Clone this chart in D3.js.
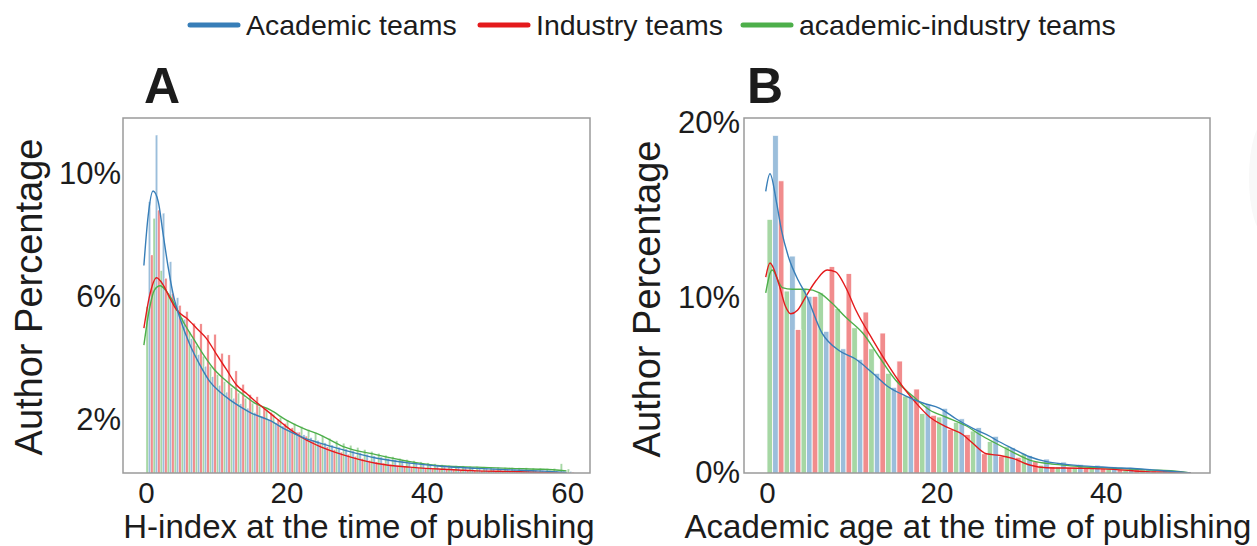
<!DOCTYPE html>
<html>
<head>
<meta charset="utf-8">
<script src="https://cdn.jsdelivr.net/npm/d3@7"></script>
<style>
  body { margin: 0; background: #fff; }
  text { font-family: "Liberation Sans", Arial, sans-serif; fill: #1c1c1c; }
</style>
</head>
<body>
<svg id="chart" width="1257" height="546"></svg>
<script>
// ---- data (percent of authors) ----
const seriesNames = ['Academic teams', 'Industry teams', 'academic-industry teams'];
const seriesColors = ['#377eb8', '#e41a1c', '#4daf4a'];

// panel A: H-index bins 0..60 (width 1)
const hIndexBins = d3.range(0, 61);
const hAcademic = [9.07, 11.24, 8.70, 7.12, 5.95, 5.25, 4.62, 4.10, 3.72, 3.38, 3.10, 2.88, 2.68, 2.50, 2.36, 2.22, 2.10, 1.98, 1.88, 1.78, 1.68, 1.58, 1.49, 1.40, 1.31, 1.23, 1.16, 1.09, 1.03, 0.97, 0.91, 0.86, 0.81, 0.77, 0.73, 0.69, 0.65, 0.61, 0.58, 0.56, 0.53, 0.51, 0.49, 0.47, 0.46, 0.44, 0.43, 0.42, 0.41, 0.40, 0.39, 0.38, 0.37, 0.36, 0.35, 0.34, 0.33, 0.33, 0.32, 0.31, 0.30];
const hIndustry = [7.34, 8.80, 6.58, 6.09, 5.70, 5.50, 5.12, 5.10, 4.74, 4.76, 4.14, 4.09, 3.57, 3.13, 2.80, 2.73, 2.35, 2.22, 2.00, 1.86, 1.72, 1.58, 1.45, 1.32, 1.20, 1.10, 1.01, 0.93, 0.86, 0.79, 0.72, 0.66, 0.61, 0.57, 0.53, 0.49, 0.46, 0.44, 0.42, 0.40, 0.38, 0.37, 0.36, 0.35, 0.34, 0.33, 0.33, 0.32, 0.32, 0.31, 0.31, 0.30, 0.30, 0.29, 0.29, 0.28, 0.28, 0.28, 0.27, 0.27, 0.27];
const hMixed = [5.66, 8.53, 6.83, 6.10, 5.80, 5.30, 4.85, 4.40, 4.05, 3.72, 3.45, 3.22, 3.02, 2.85, 2.68, 2.52, 2.42, 2.30, 2.16, 2.06, 1.96, 1.86, 1.76, 1.66, 1.56, 1.47, 1.38, 1.30, 1.22, 1.15, 1.08, 1.01, 0.95, 0.89, 0.83, 0.78, 0.73, 0.69, 0.65, 0.61, 0.58, 0.55, 0.52, 0.50, 0.49, 0.48, 0.47, 0.46, 0.45, 0.44, 0.44, 0.43, 0.43, 0.42, 0.42, 0.41, 0.41, 0.40, 0.40, 0.55, 0.38];

// panel A density curves [h-index, percent]
const hAcademicKde = [[-0.3, 7.0], [0.3, 8.6], [1.0, 9.42], [1.75, 9.07], [2.46, 7.99], [3.18, 6.91], [3.89, 6.04], [4.84, 5.28], [6.27, 4.41], [7.69, 3.76], [9.1, 3.22], [10.5, 2.89], [12.0, 2.62], [13.4, 2.41], [15, 2.2], [17.7, 1.95], [20, 1.65], [22.4, 1.4], [24.8, 1.22], [28.1, 1.0], [32.9, 0.73], [37.6, 0.57], [42.4, 0.46], [47.1, 0.4], [51.9, 0.35], [56.6, 0.31], [59.9, 0.27]];
const hIndustryKde = [[-0.3, 4.96], [0.5, 6.0], [1.5, 6.6], [2.46, 6.36], [3.42, 5.93], [4.37, 5.55], [5.8, 5.28], [7.2, 4.96], [8.6, 4.63], [10.1, 4.09], [11.5, 3.6], [12.9, 3.11], [14.4, 2.82], [16, 2.5], [17.7, 2.19], [20, 1.76], [22.4, 1.38], [24.8, 1.11], [28.1, 0.84], [32.9, 0.56], [37.6, 0.44], [42.4, 0.37], [47.1, 0.32], [51.9, 0.3], [56.6, 0.27], [59.9, 0.25]];
const hMixedKde = [[-0.3, 4.41], [0.5, 5.6], [1.2, 6.2], [2.0, 6.34], [2.95, 6.15], [3.89, 5.82], [5.3, 5.17], [6.74, 4.63], [8.2, 4.09], [9.6, 3.65], [11.0, 3.33], [12.4, 3.06], [13.9, 2.79], [15.5, 2.52], [17.7, 2.3], [20, 1.97], [22.4, 1.7], [24.8, 1.49], [28.1, 1.11], [32.9, 0.84], [37.6, 0.62], [42.4, 0.48], [47.1, 0.44], [51.9, 0.4], [56.6, 0.37], [59.9, 0.32]];

// panel B: academic age bins 0,2,..,48 (width 2)
const ageBins = d3.range(0, 50, 2);
const ageAcademic = [19.3, 12.4, 10.1, 8.1, 7.1, 6.5, 5.7, 4.9, 4.4, 3.9, 3.7, 3.1, 2.6, 2.1, 1.45, 1.0, 0.8, 0.63, 0.5, 0.45, 0.35, 0.3, 0.25, 0.15, 0.06];
const ageIndustry = [16.7, 8.2, 10.1, 11.8, 11.4, 9.2, 8.0, 6.4, 4.8, 3.3, 2.5, 2.2, 1.1, 0.95, 0.9, 0.65, 0.36, 0.3, 0.3, 0.25, 0.2, 0.18, 0.12, 0.08, 0.04];
const ageMixed = [14.5, 10.4, 10.5, 10.3, 9.4, 8.3, 7.1, 5.7, 4.4, 3.4, 3.2, 2.9, 2.4, 1.8, 1.5, 1.1, 0.45, 0.35, 0.33, 0.3, 0.25, 0.2, 0.18, 0.1, 0.06];

const ageAcademicKde = [[-0.15, 16.1], [0.35, 17.1], [1.15, 15.4], [1.7, 13.9], [2.5, 12.4], [3.7, 11.0], [4.6, 10.2], [6.5, 8.0], [8.5, 7.0], [10.5, 6.5], [12.5, 5.7], [14.4, 4.9], [16.4, 4.4], [18.4, 4.0], [20.4, 3.7], [22.3, 3.1], [24.3, 2.55], [26.3, 2.1], [27, 1.9], [29, 1.4], [31, 0.93], [33, 0.65], [35, 0.51], [36.9, 0.42], [38.9, 0.36], [40.9, 0.3], [42.9, 0.27], [44.8, 0.21], [46.8, 0.13], [48.8, 0.06], [50, 0]];
const ageIndustryKde = [[-0.15, 11.2], [0.35, 12.0], [1.4, 10.8], [2.2, 9.5], [2.8, 9.1], [3.6, 9.3], [4.6, 10.1], [5.8, 11.0], [7.1, 11.6], [8.1, 11.5], [9.3, 10.6], [10.5, 9.3], [12.5, 7.6], [14.4, 6.1], [16.4, 4.7], [17.6, 4.0], [19.2, 3.2], [21.1, 2.65], [23.1, 2.2], [24.3, 1.7], [25.9, 1.1], [27.5, 1.0], [29, 0.84], [31, 0.46], [33, 0.3], [37, 0.27], [40.9, 0.21], [44.8, 0.08], [48.8, 0.03], [50, 0]];
const ageMixedKde = [[-0.15, 10.3], [0.6, 11.6], [1.8, 10.6], [3.0, 10.5], [4.6, 10.5], [6.2, 10.3], [7.7, 9.7], [9.3, 8.9], [11.3, 8.0], [13.3, 6.6], [15.2, 5.3], [17.2, 4.4], [19.2, 3.6], [21.1, 3.2], [23.5, 2.7], [25.1, 2.2], [27, 1.7], [29, 1.2], [31, 0.74], [33, 0.55], [35, 0.45], [37, 0.36], [40.9, 0.27], [44.8, 0.18], [48.8, 0.08], [50, 0]];

const svg = d3.select('#chart');

// faint ghost of a neighbouring panel at the right edge
svg.append('ellipse').attr('cx', 1265).attr('cy', 178).attr('rx', 16).attr('ry', 56).attr('fill', '#f8f8f8');

// legend
const legendItems = [
  { name: seriesNames[0], color: seriesColors[0], x: 188 },
  { name: seriesNames[1], color: seriesColors[1], x: 478 },
  { name: seriesNames[2], color: seriesColors[2], x: 741 }
];
const legend = svg.append('g');
legendItems.forEach(d => {
  legend.append('line')
    .attr('x1', d.x + 2).attr('x2', d.x + 50).attr('y1', 25).attr('y2', 25)
    .attr('stroke', d.color).attr('stroke-width', 5).attr('stroke-linecap', 'round');
  legend.append('text').attr('x', d.x + 58).attr('y', 35)
    .style('font-size', '28.5px').text(d.name);
});

function drawPanel(cfg) {
  const { left, right, top, bottom, xDomain, yDomain, bins, binWidth, bars, kdes } = cfg;
  const x = d3.scaleLinear().domain(xDomain).range([left, right]);
  const y = d3.scaleLinear().domain(yDomain).range([bottom, top]);
  const g = svg.append('g');

  const clipId = 'clip-' + cfg.id;
  g.append('clipPath').attr('id', clipId)
    .append('rect').attr('x', left).attr('y', top).attr('width', right - left).attr('height', bottom - top);

  const plot = g.append('g').attr('clip-path', `url(#${clipId})`);
  // dodge order: mixed, academic, industry
  const order = [2, 0, 1];
  order.forEach((si, k) => {
    plot.append('g').selectAll('rect')
      .data(bins.map((b, i) => ({ b, v: bars[si][i] })))
      .join('rect')
      .attr('x', d => x(d.b) + k * (x(d.b + binWidth) - x(d.b)) / 3)
      .attr('width', d => (x(d.b + binWidth) - x(d.b)) / 3)
      .attr('y', d => y(d.v))
      .attr('height', d => y(0) - y(d.v) + 5)
      .attr('fill', seriesColors[si])
      .attr('fill-opacity', 0.5)
      .attr('stroke', '#fff')
      .attr('stroke-width', cfg.edge);
  });

  const line = d3.line().x(d => x(d[0])).y(d => y(d[1])).curve(d3.curveMonotoneX);
  [2, 1, 0].forEach(si => {
    plot.append('path').datum(kdes[si])
      .attr('d', line).attr('fill', 'none')
      .attr('stroke', seriesColors[si]).attr('stroke-width', 1.4);
  });

  g.append('rect').attr('x', left).attr('y', top).attr('width', right - left).attr('height', bottom - top)
    .attr('fill', 'none').attr('stroke', '#9a9a9a').attr('stroke-width', 1.5);

  const xAxis = g.append('g').attr('transform', `translate(0,${bottom})`)
    .call(d3.axisBottom(x).tickValues(cfg.xTicks).tickSize(0).tickPadding(9.5));
  const yAxis = g.append('g').attr('transform', `translate(${left},0)`)
    .call(d3.axisLeft(y).tickValues(cfg.yTicks).tickFormat(d => d + '%').tickSize(0).tickPadding(cfg.yPad));
  [xAxis, yAxis].forEach(a => {
    a.select('.domain').remove();
    a.selectAll('text').attr('fill', '#1c1c1c')
      .style('font-family', '"Liberation Sans", Arial, sans-serif');
  });
  xAxis.selectAll('text').style('font-size', '29.5px');
  yAxis.selectAll('text').style('font-size', '31px');

  g.append('text').attr('x', cfg.xLabelX).attr('y', 538).attr('text-anchor', 'middle')
    .style('font-size', '33px').text(cfg.xLabel);
  g.append('text').attr('transform', `translate(${cfg.yLabelX},${cfg.yLabelY}) rotate(-90)`)
    .attr('text-anchor', 'middle').style('font-size', '38px').text('Author Percentage');
  g.append('text').attr('x', cfg.letterX).attr('y', 103)
    .style('font-size', '50px').style('font-weight', 'bold').text(cfg.letter);
}

drawPanel({
  id: 'a', letter: 'A', letterX: 144,
  left: 123, right: 590, top: 118, bottom: 473,
  xDomain: [-3.276, 63.25], yDomain: [0.25, 11.795],
  bins: hIndexBins, binWidth: 1, edge: 0.35,
  bars: [hAcademic, hIndustry, hMixed],
  kdes: [hAcademicKde, hIndustryKde, hMixedKde],
  xTicks: [0, 20, 40, 60], yTicks: [2, 6, 10], yPad: 2,
  xLabel: 'H-index at the time of publishing', xLabelX: 359,
  yLabelX: 42, yLabelY: 297
});

drawPanel({
  id: 'b', letter: 'B', letterX: 747,
  left: 744, right: 1210, top: 118, bottom: 473,
  xDomain: [-2.715, 52.3], yDomain: [0, 20.29],
  bins: ageBins, binWidth: 2, edge: 0.8,
  bars: [ageAcademic, ageIndustry, ageMixed],
  kdes: [ageAcademicKde, ageIndustryKde, ageMixedKde],
  xTicks: [0, 20, 40], yTicks: [0, 10, 20], yPad: 4,
  xLabel: 'Academic age at the time of publishing', xLabelX: 968,
  yLabelX: 660, yLabelY: 299
});
</script>
</body>
</html>
